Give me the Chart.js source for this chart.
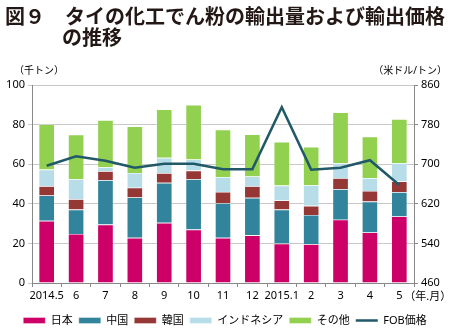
<!DOCTYPE html>
<html>
<head>
<meta charset="utf-8">
<script src="https://cdn.jsdelivr.net/npm/chart.js@4"></script>
<style>
  html, body { margin: 0; padding: 0; background: #fff; }
  #wrap { position: relative; width: 450px; height: 332px; overflow: hidden; }
  #title {
    position: absolute; left: 5px; top: 5px;
    font-family: "Noto Sans CJK JP", sans-serif; font-weight: bold;
    font-size: 20px; line-height: 21px; color: #231815; white-space: nowrap;
  }
  #title .l2 { padding-left: 57px; }
  canvas { position: absolute; left: 0; top: 0; }
</style>
</head>
<body>
<div id="wrap">
  <canvas id="chart" width="450" height="332"></canvas>
  <div id="title">図９　タイの化工でん粉の輸出量および輸出価格<br><span class="l2">の推移</span></div>
</div>
<script>
// Month labels (2014.5 – 2015.5)
const months = ['2014.5', '6', '7', '8', '9', '10', '11', '12', '2015.1', '2', '3', '4', '5'];

// Export volume by destination (thousand tonnes)
const japan     = [31.4, 24.8, 29.5, 22.8, 30.4, 27.0, 22.8, 24.1, 19.9, 19.6, 32.0, 25.5, 33.6];
const china     = [12.8, 12.3, 22.4, 20.4, 20.2, 25.4, 17.5, 18.9, 17.2, 14.8, 15.4, 15.6, 12.3];
const korea     = [ 4.7,  5.2,  4.6,  4.9,  4.9,  4.4,  5.7,  5.9,  4.6,  4.6,  5.6,  5.4,  5.4];
const indonesia = [ 8.4, 10.1,  2.0,  7.5,  7.7,  5.6,  7.5,  4.9,  7.5, 10.4,  7.5,  6.5,  9.2];
const others    = [22.8, 22.5, 23.8, 23.5, 24.5, 27.6, 23.9, 21.2, 22.0, 19.4, 25.7, 20.9, 22.3];

// FOB price (USD / tonne)
const fobPrice  = [697, 716, 707, 693, 701, 701, 690, 690, 815, 689, 693, 708, 658];

const FONT = '"Noto Sans", "Noto Sans CJK JP", sans-serif';

/**
 * Draws the axis unit captions and the "(年.月)" suffix after the last month.
 */
const captions = {
  id: 'captions',
  afterDraw(c) {
    const ctx = c.ctx;
    const x = c.scales.x;
    ctx.save();
    ctx.fillStyle = '#000';
    ctx.font = '10px ' + FONT;
    ctx.textBaseline = 'middle';
    ctx.textAlign = 'left';
    ctx.fillText('（千トン）', 14, 71);
    ctx.textAlign = 'right';
    ctx.fillText('（米ドル/トン）', 447, 71);
    ctx.font = '11px ' + FONT;
    ctx.textAlign = 'left';
    ctx.fillText('（年.月）', x.getPixelForValue(12) + 5, x.top + 14);
    ctx.restore();
  }
};

function bar(label, data, color) {
  return {
    type: 'bar', label, data, backgroundColor: color,
    borderColor: 'rgba(255,255,255,0.6)', borderWidth: 0.6,
    pointStyle: 'rect',
    yAxisID: 'y', stack: 's', order: 2
  };
}

const ctx = document.getElementById('chart').getContext('2d');
new Chart(ctx, {
  data: {
    labels: months,
    datasets: [
      bar('日本', japan, '#cc0066'),
      bar('中国', china, '#31849b'),
      bar('韓国', korea, '#953735'),
      bar('インドネシア', indonesia, '#b7dee8'),
      bar('その他', others, '#92d050'),
      {
        type: 'line', label: 'FOB価格', data: fobPrice, yAxisID: 'y2',
        borderColor: '#215968', backgroundColor: '#215968', borderWidth: 2.5,
        pointRadius: 0, pointStyle: 'line', tension: 0, order: 1
      }
    ]
  },
  options: {
    responsive: false,
    animation: false,
    datasets: { bar: { barPercentage: 0.54, categoryPercentage: 1 } },
    layout: { padding: { top: 85, left: 0, right: 0, bottom: -4 } },
    plugins: {
      tooltip: { enabled: false },
      legend: {
        position: 'bottom',
        labels: {
          usePointStyle: true, pointStyleWidth: 22, boxHeight: 6, padding: 6, color: '#000',
          font: { size: 11, family: FONT },
          sort: (a, b) => a.datasetIndex - b.datasetIndex
        }
      }
    },
    scales: {
      x: {
        stacked: true,
        grid: { display: true, drawOnChartArea: false, offset: true, tickLength: 4, color: '#888' },
        border: { color: '#888' },
        ticks: { color: '#000', font: { size: 11, family: FONT }, padding: 2, maxRotation: 0, autoSkip: false },
        afterFit(s) { s.height = 26; }
      },
      y: {
        position: 'left', stacked: true, min: 0, max: 100,
        grid: { color: '#c8c8c8', tickLength: 4 },
        border: { color: '#888' },
        ticks: { stepSize: 20, color: '#000', font: { size: 11, family: FONT }, padding: 3 },
        afterFit(s) { s.width = 32; }
      },
      y2: {
        position: 'right', min: 460, max: 860,
        grid: { drawOnChartArea: false, tickLength: 4, color: '#888' },
        border: { color: '#888' },
        ticks: { stepSize: 80, color: '#000', font: { size: 11, family: FONT }, padding: 3 },
        afterFit(s) { s.width = 36; }
      }
    }
  },
  plugins: [captions]
});
</script>
</body>
</html>
